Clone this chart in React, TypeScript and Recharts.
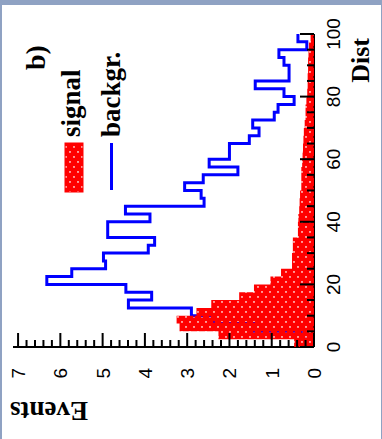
import React from 'react';
import { ComposedChart, Line, Area, XAxis, YAxis } from 'recharts';

// Dist bin edges (2.5 wide); the last edge closes the final bin
const distEdges = [
  0, 2.5, 5, 7.5, 10, 12.5, 15, 17.5, 20, 22.5, 25, 27.5, 30, 32.5, 35, 37.5, 40, 42.5, 45, 47.5,
  50, 52.5, 55, 57.5, 60, 62.5, 65, 67.5, 70, 72.5, 75, 77.5, 80, 82.5, 85, 87.5, 90, 92.5, 95, 97.5, 100,
];

// events per bin
const signalEvents = [
  0.47, 2.26, 3.18, 3.25, 2.78, 2.43, 1.77, 1.42, 1.03, 0.78,
  0.52, 0.52, 0.5, 0.5, 0.38, 0.38, 0.37, 0.35, 0.34, 0.33,
  0.3, 0.3, 0.3, 0.28, 0.27, 0.26, 0.25, 0.24, 0.22, 0.2,
  0.2, 0.18, 0.16, 0.15, 0.15, 0.14, 0.14, 0.13, 0.12, 0.08,
];

const backgrEvents = [
  0, 0.3, 1.42, 2.36, 2.9, 4.39, 3.84, 4.45, 6.32, 5.73,
  4.93, 4.98, 3.92, 3.77, 4.88, 4.88, 3.88, 4.46, 2.6, 2.67,
  3.06, 2.62, 1.8, 2.48, 2.0, 2.0, 1.53, 1.3, 1.45, 0.94,
  0.85, 0.47, 0.71, 1.39, 0.59, 0.59, 0.71, 0.83, 0.17, 0.38,
];

const distLabels = [0, 20, 40, 60, 80, 100];
const eventLabels = [0, 1, 2, 3, 4, 5, 6, 7];

const DIST_MINOR = 5;
const EVENT_MINOR = 0.2;
const EVENT_MAX = 7.12;

const distTicks = Array.from({ length: 100 / DIST_MINOR + 1 }, (_, i) => i * DIST_MINOR);
const eventTicks = Array.from({ length: 36 }, (_, i) => +(i * EVENT_MINOR).toFixed(1));

const data = distEdges.map((d, i) => {
  const bin = Math.min(i, signalEvents.length - 1);
  return { dist: d, signal: signalEvents[bin], backgr: backgrEvents[bin] };
});

const SANS = '"Liberation Sans", Arial, sans-serif';
const SERIF = '"Liberation Serif", "Times New Roman", serif';

const DistTick = ({ x, y, payload }: any) => {
  const major = distLabels.includes(payload.value);
  return (
    <g>
      <line x1={x} x2={x} y1={y} y2={y - (major ? 14 : 7)} stroke="#000" strokeWidth={2} />
      {major && (
        <text x={x} y={y + 26} textAnchor="middle" fontFamily={SANS} fontSize={19} fill="#000">
          {payload.value}
        </text>
      )}
    </g>
  );
};

const EventsTick = ({ x, y, payload }: any) => {
  const v = payload.value;
  const major = eventLabels.some((l) => Math.abs(l - v) < 1e-6);
  return (
    <g>
      <line x1={x} x2={x + (major ? 14 : 7)} y1={y} y2={y} stroke="#000" strokeWidth={2} />
      {major && (
        <text x={x - 21} y={y} dy={7} textAnchor="end" fontFamily={SANS} fontSize={19} fill="#000">
          {Math.round(v)}
        </text>
      )}
    </g>
  );
};

export default function App() {
  return (
    <div style={{ position: 'fixed', left: 0, top: 0, width: 382, height: 439, background: '#8fa2c3' }}>
      <div style={{ position: 'absolute', left: 2, top: 5, width: 379, height: 434, background: '#fff' }} />
      {/* chart is laid out landscape, then turned a quarter turn counter-clockwise */}
      <div
        style={{
          position: 'absolute',
          left: 0,
          top: 0,
          width: 439,
          height: 382,
          transform: 'translateY(439px) rotate(-90deg)',
          transformOrigin: '0 0',
        }}
      >
        <ComposedChart width={439} height={382} data={data} margin={{ top: 13, right: 34, bottom: 28, left: 32 }}>
          <defs>
            <pattern id="signalFill" width={10} height={8} patternUnits="userSpaceOnUse">
              <path
                fillRule="evenodd"
                fill="#ff0000"
                d="M0 0H10V8H0Z M1.3 1.3h1.5v1.5h-1.5Z M6.3 5.3h1.5v1.5h-1.5Z"
              />
            </pattern>
          </defs>
          <XAxis
            dataKey="dist"
            type="number"
            domain={[0, 100]}
            ticks={distTicks}
            interval={0}
            height={40}
            tickSize={0}
            tickMargin={0}
            tickLine={false}
            axisLine={{ stroke: '#000', strokeWidth: 2 }}
            tick={<DistTick />}
            zIndex={0}
          />
          <XAxis xAxisId="top" orientation="top" dataKey="dist" type="number" domain={[0, 100]} height={0} tick={false} tickLine={false} axisLine={{ stroke: '#000', strokeWidth: 2 }} />
          <YAxis
            type="number"
            domain={[0, EVENT_MAX]}
            allowDataOverflow
            ticks={eventTicks}
            interval={0}
            width={60}
            tickSize={0}
            tickMargin={0}
            tickLine={false}
            axisLine={{ stroke: '#000', strokeWidth: 2 }}
            tick={<EventsTick />}
            zIndex={0}
          />
          <YAxis yAxisId="right" orientation="right" domain={[0, EVENT_MAX]} width={0} tick={false} tickLine={false} axisLine={{ stroke: '#000', strokeWidth: 2 }} />
          <Line
            type="stepAfter"
            dataKey="backgr"
            stroke="#0000ff"
            strokeWidth={3}
            dot={false}
            isAnimationActive={false}
            zIndex={50}
          />
          <Area
            type="stepAfter"
            dataKey="signal"
            stroke="none"
            fill="url(#signalFill)"
            fillOpacity={1}
            isAnimationActive={false}
            zIndex={100}
          />
          {/* legend */}
          <rect x={247} y={65} width={49} height={18} fill="url(#signalFill)" stroke="#ff0000" strokeWidth={1} />
          <text x={302} y={80} fontFamily={SERIF} fontWeight="bold" fontSize={27} fill="#000">signal</text>
          <line x1={249} x2={296} y1={111.5} y2={111.5} stroke="#0000ff" strokeWidth={3} />
          <text x={302} y={120} fontFamily={SERIF} fontWeight="bold" fontSize={27} fill="#000">backgr.</text>
          <text x={369} y={45} fontFamily={SERIF} fontWeight="bold" fontSize={28} fill="#000">b)</text>
          {/* axis titles */}
          <text x={37} y={10} transform="rotate(-90 37 10)" textAnchor="end" fontFamily={SERIF} fontWeight="bold" fontSize={27} fill="#000">Events</text>
          <text x={401} y={369} textAnchor="end" fontFamily={SERIF} fontWeight="bold" fontSize={26} fill="#000">Dist</text>
        </ComposedChart>
      </div>
    </div>
  );
}
